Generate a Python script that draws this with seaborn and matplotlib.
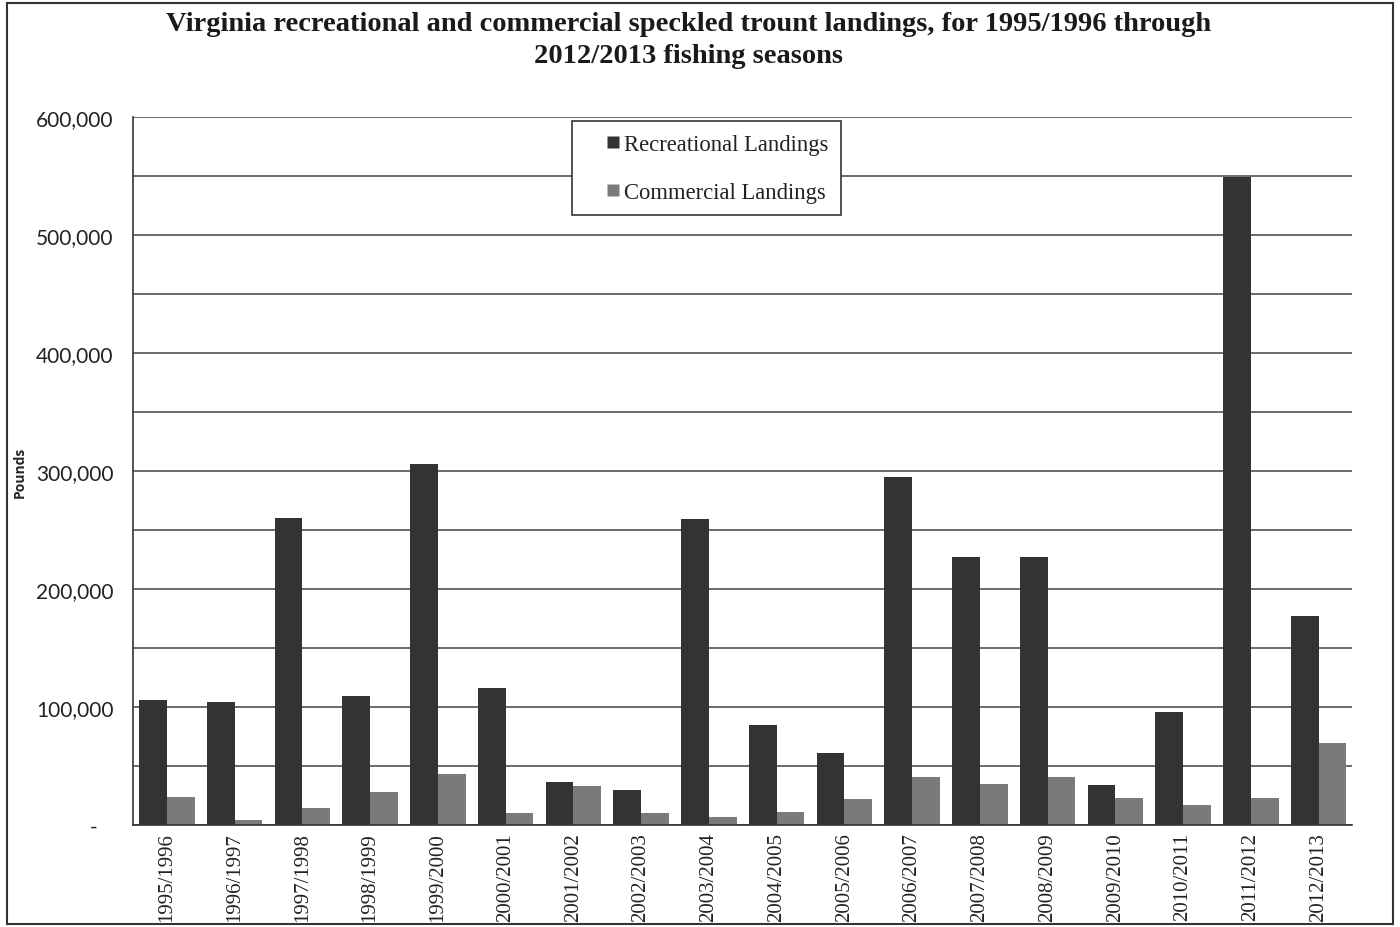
import numpy as np
import pandas as pd
import matplotlib.pyplot as plt
import matplotlib.ticker as mticker
from matplotlib.patches import Rectangle
from matplotlib.lines import Line2D
import seaborn as sns

sns.set_style('white')

seasons = ['1995/1996', '1996/1997', '1997/1998', '1998/1999', '1999/2000',
           '2000/2001', '2001/2002', '2002/2003', '2003/2004', '2004/2005',
           '2005/2006', '2006/2007', '2007/2008', '2008/2009', '2009/2010',
           '2010/2011', '2011/2012', '2012/2013']
recreational = [106000, 104000, 260000, 109000, 306000, 116000, 36000, 30000,
                259000, 85000, 61000, 295000, 227000, 227000, 34000, 96000,
                549000, 177000]
commercial = [24000, 4000, 14000, 28000, 43000, 10000, 33000, 10000, 7000,
              11000, 22000, 41000, 35000, 41000, 23000, 17000, 23000, 69000]
series_names = ['Recreational Landings', 'Commercial Landings']
colors = ['#333333', '#7a7a7a']

df = pd.DataFrame({'Season': seasons * 2,
                   'Pounds': recreational + commercial,
                   'Series': [series_names[0]] * len(seasons) + [series_names[1]] * len(seasons)})

fig = plt.figure(figsize=(14, 9.28), dpi=100)
ax = fig.add_axes([0.095, 0.110, 0.871, 0.763])

sns.barplot(data=df, x='Season', y='Pounds', hue='Series',
            palette=colors, width=0.82, saturation=1,
            edgecolor='none', ax=ax, legend=False)

ax.set_xlim(-0.5, len(seasons) - 0.5)
ax.set_ylim(0, 600000)
ax.yaxis.set_major_locator(mticker.MultipleLocator(100000))
ax.yaxis.set_minor_locator(mticker.MultipleLocator(50000))
ax.yaxis.set_major_formatter(mticker.FuncFormatter(
    lambda v, p: '-   ' if v == 0 else f'{int(v):,}'))
ax.grid(True, axis='y', which='both', color='#444444', linewidth=1.1)
ax.set_axisbelow(True)

ax.set_xticks(range(len(seasons)))
ax.set_xticklabels(seasons, rotation=90, fontfamily='Liberation Serif', fontsize=15)
ax.set_xticks(np.arange(-0.5, len(seasons)), minor=True)
ax.tick_params(axis='x', which='major', length=0, pad=5)
ax.tick_params(axis='x', which='minor', length=6, width=1, direction='out', color='#333333')
ax.tick_params(axis='y', which='major', length=11, width=1, direction='out', color='#333333',
               labelsize=15, pad=3)
ax.tick_params(axis='y', which='minor', length=0)
for lbl in ax.get_yticklabels():
    lbl.set_fontfamily('Lato')
ax.tick_params(axis='both', colors='#222222', which='both')

for s in ['top', 'right']:
    ax.spines[s].set_visible(False)
for s in ['left', 'bottom']:
    ax.spines[s].set_color('#333333')
    ax.spines[s].set_linewidth(1.2)

ax.set_xlabel('')
ax.set_ylabel('Pounds', fontfamily='Open Sans', fontweight='bold', fontsize=10)
ax.yaxis.set_label_coords(-0.087, 0.5)

handles = [Line2D([], [], linestyle='none', marker='s', markersize=8.5,
                  markerfacecolor=c, markeredgecolor='none') for c in colors]
leg = ax.legend(handles, series_names, loc='upper left', bbox_to_anchor=(0.360, 0.994),
                frameon=True, fancybox=False, framealpha=1, edgecolor='#333333',
                labelspacing=1.2, handlelength=2.5, handletextpad=-0.75,
                borderpad=0.55, borderaxespad=0,
                prop={'family': 'Liberation Serif', 'size': 16.3})
leg.get_frame().set_linewidth(1.2)
for t in leg.get_texts():
    t.set_color('#222222')

fig.text(0.492, 0.987,
         'Virginia recreational and commercial speckled trount landings, for 1995/1996 through\n2012/2013 fishing seasons',
         ha='center', va='top', fontfamily='Liberation Serif', fontweight='bold',
         fontsize=20.5, linespacing=1.35, color='#1a1a1a')

fig.patches.append(Rectangle((0.005, 0.003), 0.99, 0.993, transform=fig.transFigure,
                             fill=False, edgecolor='#333333', linewidth=1.5))

fig.savefig('out.png', dpi=100)
